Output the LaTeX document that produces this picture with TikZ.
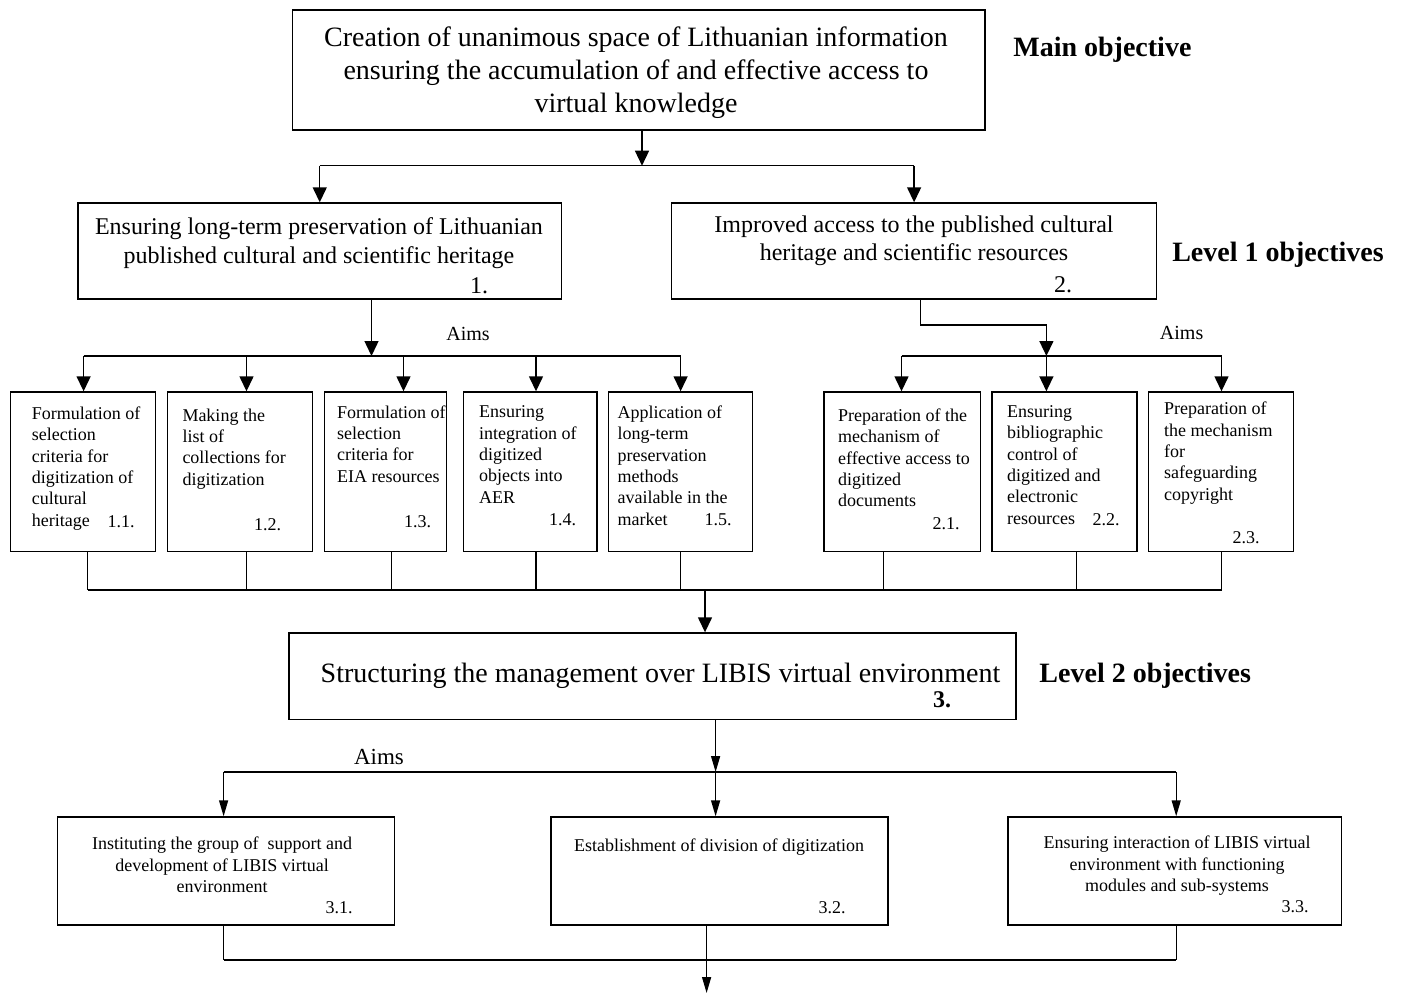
\documentclass[tikz,border=0pt]{standalone}
\usepackage{fontspec}
\setmainfont{Liberation Serif}
\usetikzlibrary{arrows.meta,fit}
\begin{document}
\begin{tikzpicture}[x=1pt,y=-1pt,
  box/.style={draw, line width=1.4pt, inner sep=0pt},
  ln/.style={line width=1.4pt},
  arrU/.style={ln, -{Triangle[width=14pt,length=15pt]}},
  arrL/.style={ln, -{Triangle[width=9pt,length=16pt]}},
  big/.style={font=\fontsize{28}{33}\selectfont, align=center, inner sep=0pt},
  mid/.style={font=\fontsize{24}{28.5}\selectfont, align=center, inner sep=0pt},
  small/.style={font=\fontsize{18}{21.4}\selectfont, align=left, inner sep=0pt, anchor=north west},
  smallc/.style={font=\fontsize{18}{21.7}\selectfont, align=center, inner sep=0pt},
  num/.style={font=\fontsize{18}{21.4}\selectfont, inner sep=0pt},
  lvl/.style={font=\bfseries\fontsize{28}{33}\selectfont, inner sep=0pt},
  aims/.style={font=\fontsize{20}{24}\selectfont, inner sep=0pt}
]
\useasboundingbox (0,0) rectangle (1402,993);

% ---------- main objective ----------
\node[box, fit={(292.5,10) (984.8,130)}] (b0) {};
\node[big] (t0) at (636,72.5) {Creation of unanimous space of Lithuanian information\\ensuring the accumulation of and effective access to\\virtual knowledge};
\node[lvl] (l0) at (1102.4,49.5) {Main objective};

% ---------- level 1 ----------
\node[box, fit={(77.8,203) (561.7,299)}] (b1) {};
\node[mid] (t1) at (319,243) {Ensuring long-term preservation of Lithuanian\\published cultural and scientific heritage};
\node[font=\fontsize{24}{28}\selectfont, inner sep=0pt] (n1) at (479,286) {1.};
\node[box, fit={(671.7,203) (1156.5,299)}] (b2) {};
\node[mid] (t2) at (914,241) {Improved access to the published cultural\\heritage and scientific resources};
\node[font=\fontsize{24}{28}\selectfont, inner sep=0pt] (n2) at (1063,285) {2.};
\node[lvl] (l1) at (1278,254.5) {Level 1 objectives};

\coordinate (j0) at (642,165.7);
\draw[arrU] (j0 |- b0.south) -- (j0);
\draw[ln] (b1.north |- j0) -- (b2.north |- j0);
\draw[arrU] (b1.north |- j0) -- (b1.north);
\draw[arrU] (b2.north |- j0) -- (b2.north);

% ---------- aims of 1 ----------
\node[aims] (aims1) at (468,334) {Aims};
\node[box, fit={(10.7,392) (155.6,551.5)}] (b11) {};
\node[box, fit={(167.7,392) (312.6,551.5)}] (b12) {};
\node[box, fit={(324.7,392) (446.3,551.5)}] (b13) {};
\node[box, fit={(463.3,392) (597,551.5)}] (b14) {};
\node[box, fit={(608.7,392) (752.6,551.5)}] (b15) {};

\node[small] (t11) at (31.6,406.5) {Formulation of\\selection\\criteria for\\digitization of\\cultural\\heritage};
\node[num] (n11) at (121,521.5) {1.1.};
\node[small] (t12) at (182.3,408.5) {Making the\\list of\\collections for\\digitization};
\node[num] (n12) at (267.5,524.5) {1.2.};
\node[small] (t13) at (337,405.2) {Formulation of\\selection\\criteria for\\EIA resources};
\node[num] (n13) at (417.5,521.5) {1.3.};
\node[small] (t14) at (478.9,405.5) {Ensuring\\integration of\\digitized\\objects into\\AER};
\node[num] (n14) at (562.5,520) {1.4.};
\node[small] (t15) at (617.4,405.5) {Application of\\long-term\\preservation\\methods\\available in the\\market};
\node[num] (n15) at (718,520) {1.5.};

\coordinate (j1) at (371.5,356);
\draw[arrU] (j1 |- b1.south) -- (j1);
\coordinate (a11) at (83.6,356);
\coordinate (a12) at (246.5,356);
\coordinate (a13) at (403.5,356);
\coordinate (a14) at (536,356);
\coordinate (a15) at (680.6,356);
\draw[ln] (a11) -- (a15);
\foreach \i in {11,12,13,14,15} \draw[arrU] (a\i) -- (a\i |- b\i.north);

% ---------- aims of 2 ----------
\node[aims] (aims2) at (1181.6,333) {Aims};
\node[box, fit={(823.8,392) (980.5,551.5)}] (b21) {};
\node[box, fit={(992,392) (1137,551.5)}] (b22) {};
\node[box, fit={(1148.7,392) (1293.5,551.5)}] (b23) {};

\node[small] (t21) at (838,408.5) {Preparation of the\\mechanism of\\effective access to\\digitized\\documents};
\node[num] (n21) at (946,524) {2.1.};
\node[small] (t22) at (1007,405.2) {Ensuring\\bibliographic\\control of\\digitized and\\electronic\\resources};
\node[num] (n22) at (1106,519.3) {2.2.};
\node[small] (t23) at (1164,401.8) {Preparation of\\the mechanism\\for\\safeguarding\\copyright};
\node[num] (n23) at (1246,537.3) {2.3.};

\coordinate (k2) at (920.5,325);
\coordinate (j2) at (1046.4,356);
\draw[arrU] (k2 |- b2.south) -- (k2) -| (j2);
\coordinate (a21) at (901.5,356);
\coordinate (a22) at (1046.4,356);
\coordinate (a23) at (1221.5,356);
\draw[ln] (a21) -- (a23);
\foreach \i in {21,22,23} \draw[arrU] (a\i) -- (a\i |- b\i.north);

% ---------- collecting bus ----------
\coordinate (d11) at (87.5,590);
\coordinate (d12) at (246.5,590);
\coordinate (d13) at (391.3,590);
\coordinate (d14) at (536,590);
\coordinate (d15) at (680.6,590);
\coordinate (d21) at (883.5,590);
\coordinate (d22) at (1076.6,590);
\coordinate (d23) at (1221.5,590);
\foreach \i in {11,12,13,14,15,21,22,23} \draw[ln] (d\i |- b\i.south) -- (d\i);
\draw[ln] (d11) -- (d23);

% ---------- level 2 ----------
\node[box, fit={(289,633) (1016,719.5)}] (b3) {};
\node[big] (t3) at (660.5,675.8) {Structuring the management over LIBIS virtual environment};
\node[font=\bfseries\fontsize{24}{28}\selectfont, inner sep=0pt] (n3) at (942,700) {3.};
\node[lvl] (l2) at (1145.2,675.8) {Level 2 objectives};
\coordinate (j3) at (705,590);
\draw[arrU] (j3) -- (j3 |- b3.north);

% ---------- aims of 3 ----------
\node[font=\fontsize{23}{27}\selectfont, inner sep=0pt] (aims3) at (379,757) {Aims};
\node[box, fit={(57.3,817) (394.3,925)}] (b31) {};
\node[box, fit={(551,817) (888,925)}] (b32) {};
\node[box, fit={(1008,817) (1341.5,925)}] (b33) {};
\node[smallc] (t31) at (222.2,865) {Instituting the group of \ support and\\development of LIBIS virtual\\environment};
\node[num] (n31) at (339,908) {3.1.};
\node[smallc] (t32) at (719,846.8) {Establishment of division of digitization};
\node[num] (n32) at (832,908) {3.2.};
\node[smallc] (t33) at (1177,865.8) {Ensuring interaction of LIBIS virtual\\environment with functioning\\modules and sub-systems};
\node[num] (n33) at (1295,907) {3.3.};

\coordinate (k3) at (715.6,772);
\draw[arrL] (k3 |- b3.south) -- (k3);
\coordinate (a31) at (223.6,772);
\coordinate (a32) at (715.6,772);
\coordinate (a33) at (1176.2,772);
\draw[ln] (a31) -- (a33);
\foreach \i in {31,32,33} \draw[arrL] (a\i) -- (a\i |- b\i.north);

\coordinate (e31) at (223.6,960);
\coordinate (e32) at (706.6,960);
\coordinate (e33) at (1176.2,960);
\foreach \i in {31,32,33} \draw[ln] (e\i |- b\i.south) -- (e\i);
\draw[ln] (e31) -- (e33);
\coordinate (out) at (706.6,993);
\draw[arrL] (e32) -- (out);
\end{tikzpicture}
\end{document}
